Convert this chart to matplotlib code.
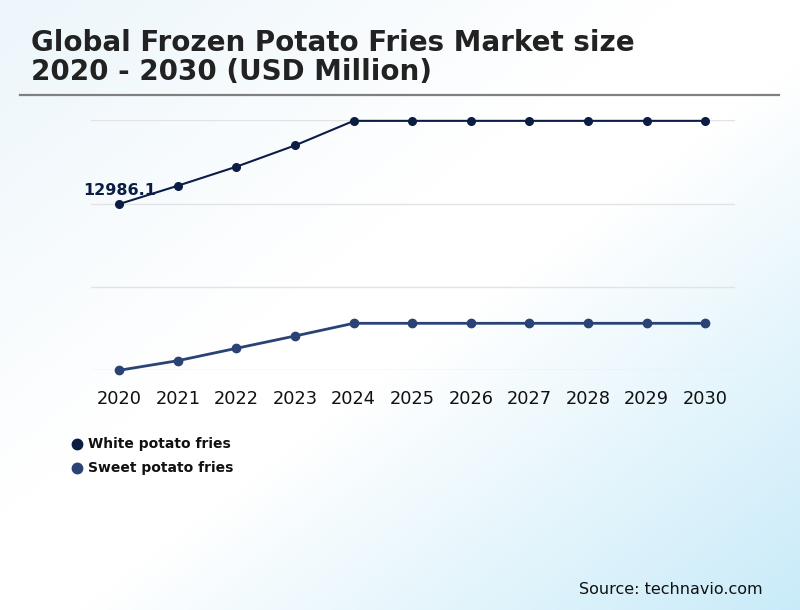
import numpy as np
import matplotlib
matplotlib.use("Agg")
import matplotlib.pyplot as plt
from matplotlib.colors import LinearSegmentedColormap

years = ["2020", "2021", "2022", "2023", "2024", "2025", "2026", "2027", "2028", "2029", "2030"]
white_fries = [12986.1, 13645, 14330, 15096, 15980, 15980, 15980, 15980, 15980, 15980, 15980]
sweet_fries = [7000, 7346, 7792, 8235, 8692, 8692, 8692, 8692, 8692, 8692, 8692]
series_names = ["White potato fries", "Sweet potato fries"]
grid_values = [7000, 10000, 13000, 16000]
title_lines = ["Global Frozen Potato Fries Market size", "2020 - 2030 (USD Million)"]
source = "Source: technavio.com"

c_white = "#0b1d45"
c_sweet = "#2b4275"

W, H = 800, 610
fig = plt.figure(figsize=(W / 100, H / 100), dpi=100)

# gradient background
bg = fig.add_axes([0, 0, 1, 1], zorder=-10)
yy, xx = np.mgrid[0:H, 0:W]
t = (xx / W + yy / H) / 2.0
cmap = LinearSegmentedColormap.from_list(
    "bg", [(0, "#ecf6fb"), (0.42, "#ffffff"), (0.55, "#ffffff"), (1.0, "#c9ebf9")])
bg.imshow(t, cmap=cmap, aspect="auto", extent=[0, 1, 0, 1], origin="upper")
bg.axis("off")

def fx(px):
    return px / W

def fy(py):
    return 1 - py / H

# title
for i, line in enumerate(title_lines):
    fig.text(fx(31), fy(51 + 29 * i), line, fontsize=20, fontweight="bold", color="#222222",
             va="baseline", ha="left")
# separator
fig.add_artist(plt.Line2D([fx(20), fx(779)], [fy(95), fy(95)], color="#808080", lw=1.6))

# main axes
top_px, bot_px = 120.3, 370.3
left_px, right_px = 90.7, 735.3
ax = fig.add_axes([fx(left_px), fy(bot_px), fx(right_px) - fx(left_px), (bot_px - top_px) / H])
ax.set_facecolor("none")
x = np.arange(len(years))
ax.plot(x, white_fries, color=c_white, lw=1.5, marker="o", ms=5.5, clip_on=False, zorder=3)
ax.plot(x, sweet_fries, color=c_sweet, lw=2.0, marker="o", ms=6, clip_on=False, zorder=3)
ax.set_xlim(-0.487, 10.513)
ax.set_ylim(grid_values[0], grid_values[-1])
ax.set_yticks(grid_values)
ax.yaxis.grid(True, color="#e3e3e3", lw=1)
ax.tick_params(axis="y", left=False, labelleft=False)
ax.set_xticks(x)
ax.set_xticklabels(years, fontsize=12.8, color="#111111")
ax.tick_params(axis="x", length=0, pad=14)
for s in ax.spines.values():
    s.set_visible(False)
ax.set_axisbelow(True)

ax.annotate(f"{white_fries[0]:.1f}", (x[0], white_fries[0]), xytext=(0, 6.5),
            textcoords="offset points", ha="center", va="baseline",
            fontsize=11.5, fontweight="bold", color=c_white, zorder=2)

# legend
for i, (name, c) in enumerate(zip(series_names, [c_white, c_sweet])):
    ypx = 444 + 24 * i
    fig.add_artist(plt.Line2D([fx(77)], [fy(ypx)], marker="o", ms=7.5, color=c, lw=0))
    fig.text(fx(88), fy(ypx), name, fontsize=10, fontweight="bold", color="#111111",
             va="center", ha="left")

fig.text(fx(763), fy(589), source, fontsize=11.5, color="#111111", ha="right", va="center")

fig.savefig("out.png", dpi=100)
